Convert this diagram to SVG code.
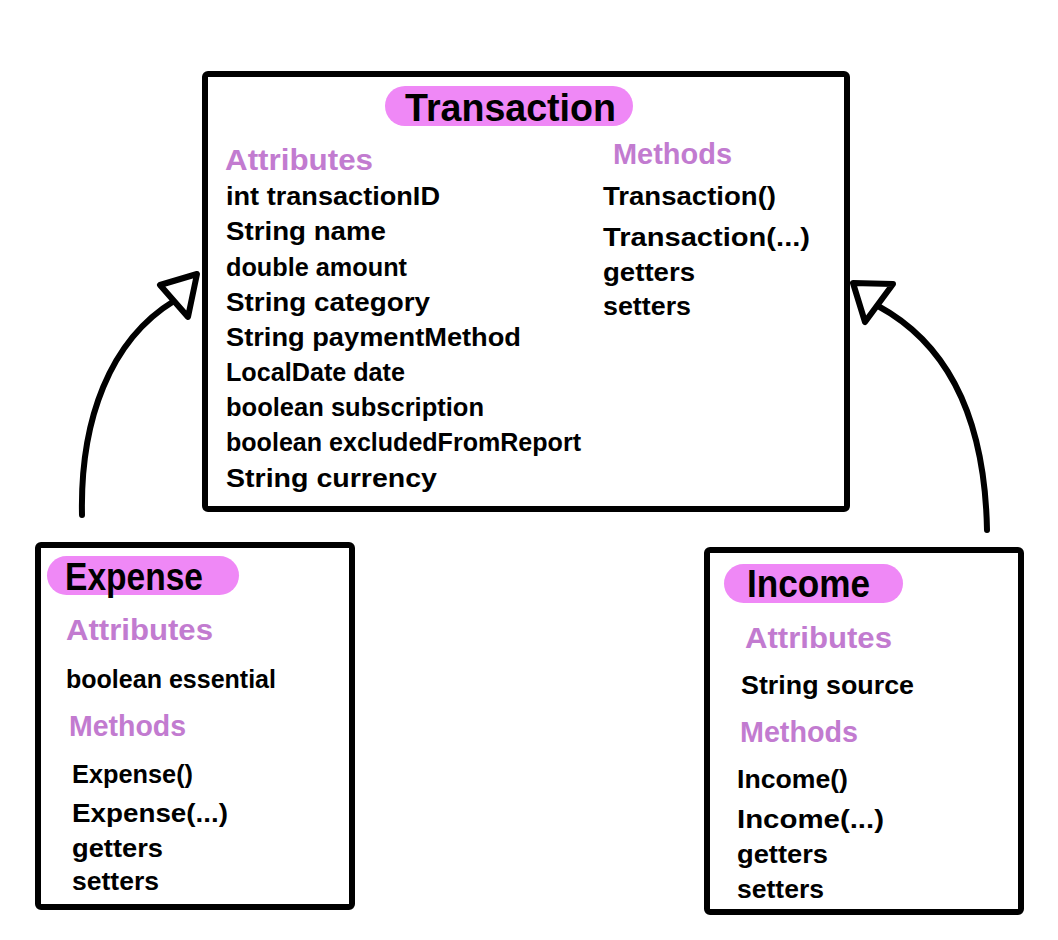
<svg xmlns="http://www.w3.org/2000/svg" width="1058" height="940" viewBox="0 0 1058 940">
<style>
.box{fill:#fff;stroke:#000;stroke-width:6;stroke-linejoin:round}
.pill{fill:#ef88f6}
.title{font-family:"Liberation Sans",Arial,sans-serif;font-weight:bold;font-size:38px;fill:#000}
.sec{font-family:"Liberation Sans",Arial,sans-serif;font-weight:bold;font-size:29px;fill:#c27bd0}
.item{font-family:"Liberation Sans",Arial,sans-serif;font-weight:bold;font-size:25px;fill:#000}
.conn{fill:none;stroke:#000;stroke-width:6;stroke-linecap:round;stroke-linejoin:round}
.head{fill:#fff;stroke:#000;stroke-width:6;stroke-linejoin:round}
</style>
<rect width="1058" height="940" fill="#fff"/>
<g id="connectors">
<path class="conn" d="M82,515 C80,420 110,340 174,301"/>
<polygon class="head" points="160,285 197,274 188,317"/>
<path class="conn" d="M987,530 C985,420 950,345 878,306"/>
<polygon class="head" points="853,283 893,284 865,322"/>
</g>
<g id="transaction">
<rect class="box" x="205" y="74" width="642" height="435" rx="3"/>
<rect class="pill" x="385" y="86" width="248" height="40" rx="20"/>
<text class="title" x="405" y="121" textLength="211" lengthAdjust="spacingAndGlyphs">Transaction</text>
<text class="sec" x="225" y="170" textLength="148" lengthAdjust="spacingAndGlyphs">Attributes</text>
<text class="sec" x="613" y="164" textLength="119" lengthAdjust="spacingAndGlyphs">Methods</text>
<text class="item" x="226" y="205" textLength="214" lengthAdjust="spacingAndGlyphs">int transactionID</text>
<text class="item" x="226" y="240" textLength="160" lengthAdjust="spacingAndGlyphs">String name</text>
<text class="item" x="226" y="276" textLength="181" lengthAdjust="spacingAndGlyphs">double amount</text>
<text class="item" x="226" y="311" textLength="204" lengthAdjust="spacingAndGlyphs">String category</text>
<text class="item" x="226" y="346" textLength="295" lengthAdjust="spacingAndGlyphs">String paymentMethod</text>
<text class="item" x="226" y="381" textLength="179" lengthAdjust="spacingAndGlyphs">LocalDate date</text>
<text class="item" x="226" y="416" textLength="258" lengthAdjust="spacingAndGlyphs">boolean subscription</text>
<text class="item" x="226" y="451" textLength="355" lengthAdjust="spacingAndGlyphs">boolean excludedFromReport</text>
<text class="item" x="226" y="487" textLength="211" lengthAdjust="spacingAndGlyphs">String currency</text>
<text class="item" x="603" y="205" textLength="173" lengthAdjust="spacingAndGlyphs">Transaction()</text>
<text class="item" x="603" y="246" textLength="207" lengthAdjust="spacingAndGlyphs">Transaction(...)</text>
<text class="item" x="603" y="281" textLength="92" lengthAdjust="spacingAndGlyphs">getters</text>
<text class="item" x="603" y="315" textLength="88" lengthAdjust="spacingAndGlyphs">setters</text>
</g>
<g id="expense">
<rect class="box" x="38" y="545" width="314" height="362" rx="3"/>
<rect class="pill" x="47" y="556" width="192" height="39" rx="19.5"/>
<text class="title" x="65" y="590" textLength="138" lengthAdjust="spacingAndGlyphs">Expense</text>
<text class="sec" x="66" y="640" textLength="147" lengthAdjust="spacingAndGlyphs">Attributes</text>
<text class="item" x="66" y="688" textLength="210" lengthAdjust="spacingAndGlyphs">boolean essential</text>
<text class="sec" x="69" y="736" textLength="117" lengthAdjust="spacingAndGlyphs">Methods</text>
<text class="item" x="72" y="783" textLength="121" lengthAdjust="spacingAndGlyphs">Expense()</text>
<text class="item" x="72" y="822" textLength="156" lengthAdjust="spacingAndGlyphs">Expense(...)</text>
<text class="item" x="72" y="857" textLength="91" lengthAdjust="spacingAndGlyphs">getters</text>
<text class="item" x="72" y="890" textLength="87" lengthAdjust="spacingAndGlyphs">setters</text>
</g>
<g id="income">
<rect class="box" x="707" y="550" width="314" height="362" rx="3"/>
<rect class="pill" x="724" y="564" width="179" height="39" rx="19.5"/>
<text class="title" x="747" y="597" textLength="123" lengthAdjust="spacingAndGlyphs">Income</text>
<text class="sec" x="745" y="648" textLength="147" lengthAdjust="spacingAndGlyphs">Attributes</text>
<text class="item" x="741" y="694" textLength="173" lengthAdjust="spacingAndGlyphs">String source</text>
<text class="sec" x="740" y="742" textLength="118" lengthAdjust="spacingAndGlyphs">Methods</text>
<text class="item" x="737" y="788" textLength="111" lengthAdjust="spacingAndGlyphs">Income()</text>
<text class="item" x="737" y="828" textLength="147" lengthAdjust="spacingAndGlyphs">Income(...)</text>
<text class="item" x="737" y="863" textLength="91" lengthAdjust="spacingAndGlyphs">getters</text>
<text class="item" x="737" y="898" textLength="87" lengthAdjust="spacingAndGlyphs">setters</text>
</g>
</svg>
